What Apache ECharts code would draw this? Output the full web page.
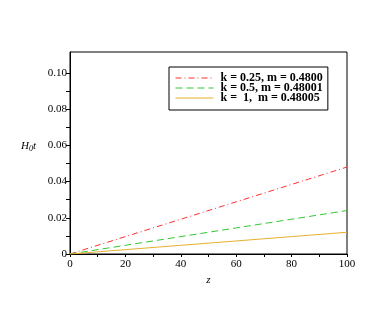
<!DOCTYPE html>
<html><head><meta charset="utf-8">
<script src="https://cdn.jsdelivr.net/npm/echarts@6/dist/echarts.min.js"></script>
<style>html,body{margin:0;padding:0;background:#fff}#c{width:382px;height:327px}</style>
</head><body><div id="c"></div>
<script>
const zValues = [0, 20, 40, 60, 80, 100];
const seriesRed = [0, 0.0096, 0.0192, 0.0288, 0.0384, 0.048];
const seriesGreen = [0, 0.0048, 0.0096, 0.0144, 0.0192, 0.024];
const seriesYellow = [0, 0.0024, 0.0048, 0.0072, 0.0096, 0.012];
const names = ['k = 0.25, m = 0.4800', 'k = 0.5, m = 0.48001', 'k =  1,  m = 0.48005'];
const xTicks = [0, 20, 40, 60, 80, 100];
const yTicks = [0, 0.02, 0.04, 0.06, 0.08, 0.10];
const yTickMarks = [0, 0.01, 0.02, 0.03, 0.04, 0.05, 0.06, 0.07, 0.08, 0.09, 0.10];

const font = 'Liberation Serif, DejaVu Serif, serif';
const chart = echarts.init(document.getElementById('c'));
const mk = (arr) => zValues.map((z, i) => [z, arr[i]]);
chart.setOption({
  animation: false,
  grid: {left: 70, right: 35, top: 52, bottom: 73, show: true, borderColor: '#000', borderWidth: 1},
  xAxis: {
    type: 'value', min: 0, max: 100, interval: 20,
    name: 'z', nameLocation: 'middle', nameGap: 17,
    nameTextStyle: {fontFamily: font, fontStyle: 'italic', fontSize: 11, color: '#000'},
    axisLine: {show: true, onZero: false, lineStyle: {color: '#000'}},
    axisTick: {show: true, length: 3, lineStyle: {color: '#000'}},
    minorTick: {show: true, splitNumber: 2, length: 3, lineStyle: {color: '#000'}},
    splitLine: {show: false},
    axisLabel: {fontFamily: font, fontSize: 11, color: '#000', margin: 5}
  },
  yAxis: {
    type: 'value', min: 0, max: 0.1115, interval: 0.02,
    axisLine: {show: true, onZero: false, lineStyle: {color: '#000'}},
    axisTick: {show: true, length: 4, customValues: yTickMarks, lineStyle: {color: '#000'}},
    minorTick: {show: false},
    splitLine: {show: false},
    axisLabel: {fontFamily: font, fontSize: 11, color: '#000', margin: 3, customValues: yTicks,
      formatter: v => (v === 0 ? '0' : v.toFixed(2))}
  },
  graphic: [{
    type: 'text', left: 21, top: 141,
    style: {rich: {a: {fontFamily: font, fontStyle: 'italic', fontSize: 11, fill: '#000'}, s: {fontFamily: font, fontStyle: 'italic', fontSize: 8, fill: '#000', verticalAlign: 'bottom', padding: [4, 0, 0, 0]}},
      text: '{a|H}{s|0}{a|t}'}
  }],
  legend: {
    orient: 'vertical', left: 169, top: 67,
    borderColor: '#000', borderWidth: 1, padding: [5, 5, 6, 6],
    itemWidth: 38, itemHeight: 2, itemGap: -2,
    itemStyle: {opacity: 0},
    lineStyle: {width: 1},
    textStyle: {fontFamily: font, fontWeight: 'bold', fontSize: 12, color: '#000', padding: [0, 0, 0, 2]},
    data: names
  },
  series: [
    {name: names[0], type: 'line', data: mk(seriesRed), showSymbol: false, symbol: 'none',
      lineStyle: {color: '#ff3030', width: 1, type: [6, 3, 1, 3]}, itemStyle: {color: '#ff3030'}},
    {name: names[1], type: 'line', data: mk(seriesGreen), showSymbol: false, symbol: 'none',
      lineStyle: {color: '#33c633', width: 1, type: [7, 4]}, itemStyle: {color: '#33c633'}},
    {name: names[2], type: 'line', data: mk(seriesYellow), showSymbol: false, symbol: 'none',
      lineStyle: {color: '#e6b030', width: 1, type: 'solid'}, itemStyle: {color: '#e6b030'}}
  ]
});
</script></body></html>
